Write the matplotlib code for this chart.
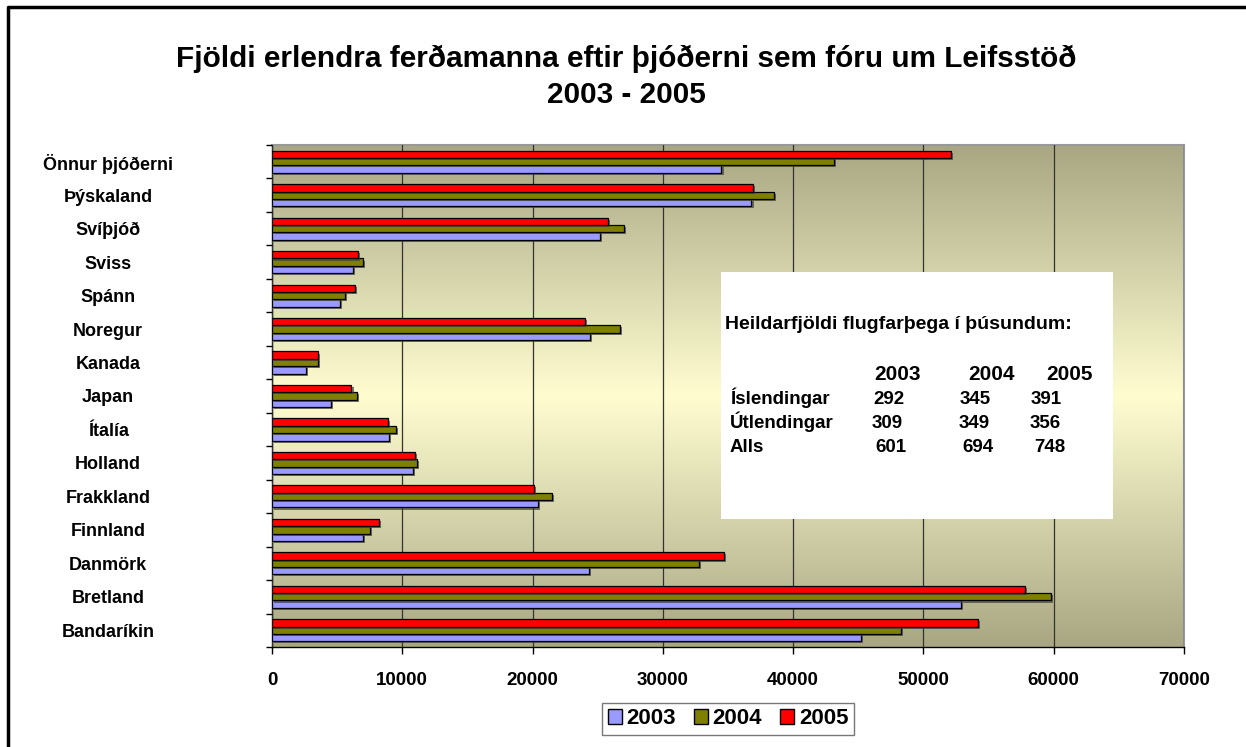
import numpy as np
import matplotlib
matplotlib.use("Agg")
from matplotlib import pyplot as plt
from matplotlib import patheffects as pe
from matplotlib.colors import LinearSegmentedColormap
from matplotlib.lines import Line2D
from matplotlib.patches import Rectangle, Patch

plt.rcParams['font.family'] = ['Liberation Sans', 'DejaVu Sans']
plt.rcParams['font.weight'] = 'bold'

# gögn, neðst til efst eins og á myndinni
countries = ['Bandaríkin', 'Bretland', 'Danmörk', 'Finnland', 'Frakkland', 'Holland',
             'Ítalía', 'Japan', 'Kanada', 'Noregur', 'Spánn', 'Sviss', 'Svíþjóð',
             'Þýskaland', 'Önnur þjóðerni']
y2003 = [45200, 52900, 24300, 7000, 20400, 10800, 9000, 4500, 2600, 24400, 5200, 6200, 25200, 36800, 34500]
y2004 = [48300, 59800, 32800, 7500, 21500, 11100, 9500, 6500, 3500, 26700, 5600, 7000, 27000, 38500, 43100]
y2005 = [54200, 57800, 34700, 8200, 20100, 11000, 8900, 6100, 3500, 24000, 6400, 6600, 25800, 36900, 52100]
years = ['2003', '2004', '2005']
colors = ['#9999ff', '#808000', '#ff0000']

# tafla í textareitnum (þúsundir)
table_rows = ['Íslendingar', 'Útlendingar', 'Alls']
table_vals = [['292', '345', '391'],
              ['309', '349', '356'],
              ['601', '694', '748']]

W, H = 1246, 747
fig = plt.figure(figsize=(W / 100, H / 100), dpi=100)
ax = fig.add_axes([272 / W, 1 - 647 / H, (1184 - 272) / W, (647 - 145) / H])

# bakgrunnur: ólífu -> ljósgult -> ólífu
cmap = LinearSegmentedColormap.from_list('bg', ['#a9a783', '#fffdd0', '#a9a783'])
grad = np.linspace(0, 1, 256).reshape(-1, 1)
ax.imshow(grad, cmap=cmap, aspect='auto', extent=[0, 70000, -0.5, 14.5],
          origin='upper', zorder=0)

pos = np.arange(len(countries))
bh = 0.22
shadow = [pe.SimplePatchShadow(offset=(1.5, -1.5), shadow_rgbFace='0.25', alpha=0.7), pe.Normal()]
for k, (vals, c) in enumerate(zip([y2003, y2004, y2005], colors)):
    bars = ax.barh(pos + (k - 1) * bh, vals, height=bh, color=c, edgecolor='black',
                   linewidth=0.9, zorder=3, label=years[k])
    for b in bars:
        b.set_path_effects(shadow)

ax.set_xlim(0, 70000)
ax.set_ylim(-0.5, 14.5)
ax.set_xticks(np.arange(0, 70001, 10000))
ax.xaxis.grid(True, color='#333333', linewidth=0.9, zorder=1)
ax.set_axisbelow(False)
for gl in ax.get_xgridlines():
    gl.set_zorder(1)

ax.set_yticks(pos)
ax.set_yticklabels(countries, ha='center', fontsize=13, fontweight='bold')
ax.set_yticks(np.arange(-0.5, 15, 1), minor=True)
ax.tick_params(axis='y', which='major', length=0, pad=118)
ax.tick_params(axis='y', which='minor', length=4, width=1, direction='out')
ax.tick_params(axis='x', length=5, width=1, direction='out', pad=13, labelsize=13.5)
for t in ax.get_xticklabels():
    t.set_fontweight('bold')

for s in ['top', 'right']:
    ax.spines[s].set_color('#999999')
    ax.spines[s].set_linewidth(1.5)
for s in ['left', 'bottom']:
    ax.spines[s].set_color('black')
    ax.spines[s].set_linewidth(1)

# textareitur
ax.add_patch(Rectangle((721 / W, 1 - 519 / H), (1113 - 721) / W, (519 - 272) / H,
                       transform=fig.transFigure, facecolor='white', edgecolor='none',
                       zorder=5, clip_on=False))
fig.text(725 / W, 1 - 329 / H, 'Heildarfjöldi flugfarþega í þúsundum:', fontsize=14,
         va='baseline', ha='left', zorder=6)
for x, yr in zip([874, 968, 1046], years):
    fig.text(x / W, 1 - 380 / H, yr, fontsize=15, va='baseline', ha='left', zorder=6)
col_x = [[873, 960, 1031], [872, 959, 1030], [875, 962, 1034]]
for r, (name, vals) in enumerate(zip(table_rows, table_vals)):
    yy = 1 - (404 + 24 * r) / H
    fig.text(730 / W, yy, name, fontsize=13.5, va='baseline', ha='left', zorder=6)
    for x, v in zip(col_x[r], vals):
        fig.text(x / W, yy, v, fontsize=13.5, va='baseline', ha='left', zorder=6)

# titill
fig.text(626 / W, 1 - 77 / H, 'Fjöldi erlendra ferðamanna eftir þjóðerni sem fóru um Leifsstöð\n2003 - 2005',
         fontsize=21.4, fontweight='bold', ha='center', va='center', linespacing=1.35)

# skýringar
handles = [Patch(facecolor=c, edgecolor='black', linewidth=1) for c in colors]
leg = fig.legend(handles, years, loc='center', bbox_to_anchor=(728 / W, 1 - 719 / H), ncol=3,
                 frameon=True, fancybox=False, edgecolor='#555555', fontsize=16,
                 handlelength=0.65, handleheight=0.65, handletextpad=0.2, columnspacing=0.8,
                 borderpad=0.25, borderaxespad=0)
leg.get_frame().set_linewidth(1)
for t in leg.get_texts():
    t.set_fontweight('bold')

# rammi utan um myndina (efri og vinstri brún)
fig.add_artist(Line2D([8 / W, 8 / W, 1], [0, 1 - 7 / H, 1 - 7 / H], transform=fig.transFigure,
                      color='black', linewidth=2.5))

fig.savefig('out.png', dpi=100)
